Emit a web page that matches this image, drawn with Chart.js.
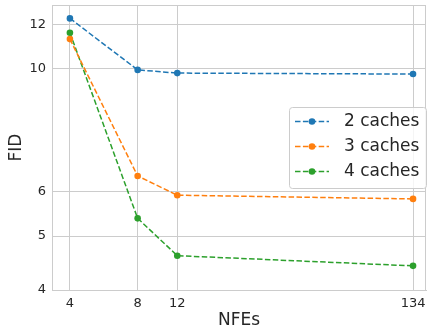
<!DOCTYPE html>
<html>
<head>
<meta charset="utf-8">
<script src="https://cdn.jsdelivr.net/npm/chart.js@4/dist/chart.umd.min.js"></script>
<style>
  body { margin: 0; background: #fff; }
  #wrap { width: 430px; height: 330px; }
</style>
</head>
<body>
<div id="wrap"><canvas id="fid-chart" width="430" height="330"></canvas></div>
<script>
// values
const nfes = [4, 8, 12, 134];
const twoCaches = [12.30, 9.94, 9.81, 9.77];
const threeCaches = [11.29, 6.41, 5.92, 5.83];
const fourCaches = [11.59, 5.38, 4.61, 4.42];
const xTicks = [4, 8, 12, 134];
const yTicks = [4, 5, 6, 10, 12];

const seriesNames = ['2 caches', '3 caches', '4 caches'];
const seriesColors = ['#1f77b4', '#ff7f0e', '#2ca02c'];
const textColor = '#262626';
const gridColor = '#cccccc';

Chart.defaults.font.family = '"DejaVu Sans", sans-serif';

function toPoints(values) {
    return nfes.map((n, i) => ({ x: n, y: values[i] }));
}

function makeDataset(name, values, color) {
    return {
        label: name,
        data: toPoints(values),
        borderColor: color,
        backgroundColor: color,
        borderWidth: 1.5,
        borderDash: [5.5, 2.4],
        pointRadius: 3.3,
        pointBorderWidth: 0,
        pointBackgroundColor: color,
        tension: 0,
        clip: false
    };
}

// top/right spines + legend box like matplotlib
const framePlugin = {
    id: 'frame',
    beforeDatasetsDraw(chart) {
        const { ctx, chartArea: a } = chart;
        ctx.save();
        ctx.strokeStyle = gridColor;
        ctx.lineWidth = 1;
        ctx.beginPath();
        ctx.moveTo(a.left, a.top + 0.5);
        ctx.lineTo(a.right, a.top + 0.5);
        ctx.moveTo(a.right - 0.5, a.top);
        ctx.lineTo(a.right - 0.5, a.bottom);
        ctx.stroke();
        ctx.restore();
    },
    afterDraw(chart) {
        const ctx = chart.ctx;
        const box = { x: 289, y: 107, w: 137, h: 81 };
        ctx.save();
        ctx.beginPath();
        ctx.roundRect(box.x + 0.5, box.y + 0.5, box.w, box.h, 3);
        ctx.fillStyle = 'rgba(255,255,255,0.8)';
        ctx.fill();
        ctx.strokeStyle = gridColor;
        ctx.lineWidth = 1;
        ctx.stroke();

        chart.data.datasets.forEach((ds, i) => {
            const y = 121.5 + i * 25;
            ctx.beginPath();
            ctx.setLineDash([5.5, 2.4]);
            ctx.strokeStyle = ds.borderColor;
            ctx.lineWidth = 1.5;
            ctx.moveTo(295, y);
            ctx.lineTo(329, y);
            ctx.stroke();
            ctx.setLineDash([]);
            ctx.beginPath();
            ctx.arc(312, y, 3.3, 0, Math.PI * 2);
            ctx.fillStyle = ds.borderColor;
            ctx.fill();

            ctx.fillStyle = textColor;
            ctx.font = '17px "DejaVu Sans"';
            ctx.textBaseline = 'middle';
            ctx.textAlign = 'left';
            ctx.fillText(ds.label, 344, y + 0.5);
        });
        ctx.restore();
    }
};

new Chart(document.getElementById('fid-chart'), {
    type: 'line',
    data: {
        datasets: [
            makeDataset(seriesNames[0], twoCaches, seriesColors[0]),
            makeDataset(seriesNames[1], threeCaches, seriesColors[1]),
            makeDataset(seriesNames[2], fourCaches, seriesColors[2])
        ]
    },
    options: {
        responsive: false,
        animation: false,
        layout: { padding: { top: 5, right: 0, left: 0, bottom: 0 } },
        plugins: {
            legend: { display: false },
            tooltip: { enabled: false }
        },
        scales: {
            x: {
                type: 'logarithmic',
                min: 3.33,
                max: 153,
                afterBuildTicks: (scale) => { scale.ticks = xTicks.map(v => ({ value: v })); },
                afterFit: (scale) => {
                    scale.height = 40;
                    scale.paddingLeft = 0;
                    scale.paddingRight = 0;
                },
                ticks: {
                    color: textColor,
                    font: { size: 13 },
                    padding: 6,
                    maxRotation: 0,
                    autoSkip: false,
                    callback: (v) => String(v)
                },
                grid: { color: gridColor, drawTicks: false },
                border: { color: gridColor },
                title: {
                    display: true,
                    text: 'NFEs',
                    color: textColor,
                    font: { size: 17 },
                    padding: { top: 0, bottom: -1 }
                }
            },
            y: {
                type: 'logarithmic',
                min: 4,
                max: 13,
                afterBuildTicks: (scale) => { scale.ticks = yTicks.map(v => ({ value: v })); },
                afterFit: (scale) => {
                    scale.width = 52;
                    scale.paddingTop = 0;
                    scale.paddingBottom = 0;
                },
                ticks: {
                    color: textColor,
                    font: { size: 13 },
                    padding: 6,
                    autoSkip: false,
                    callback: (v) => String(v)
                },
                grid: { color: gridColor, drawTicks: false },
                border: { color: gridColor },
                title: {
                    display: true,
                    text: 'FID',
                    color: textColor,
                    font: { size: 17 },
                    padding: { top: 6, bottom: 0 }
                }
            }
        }
    },
    plugins: [framePlugin]
});
</script>
</body>
</html>
